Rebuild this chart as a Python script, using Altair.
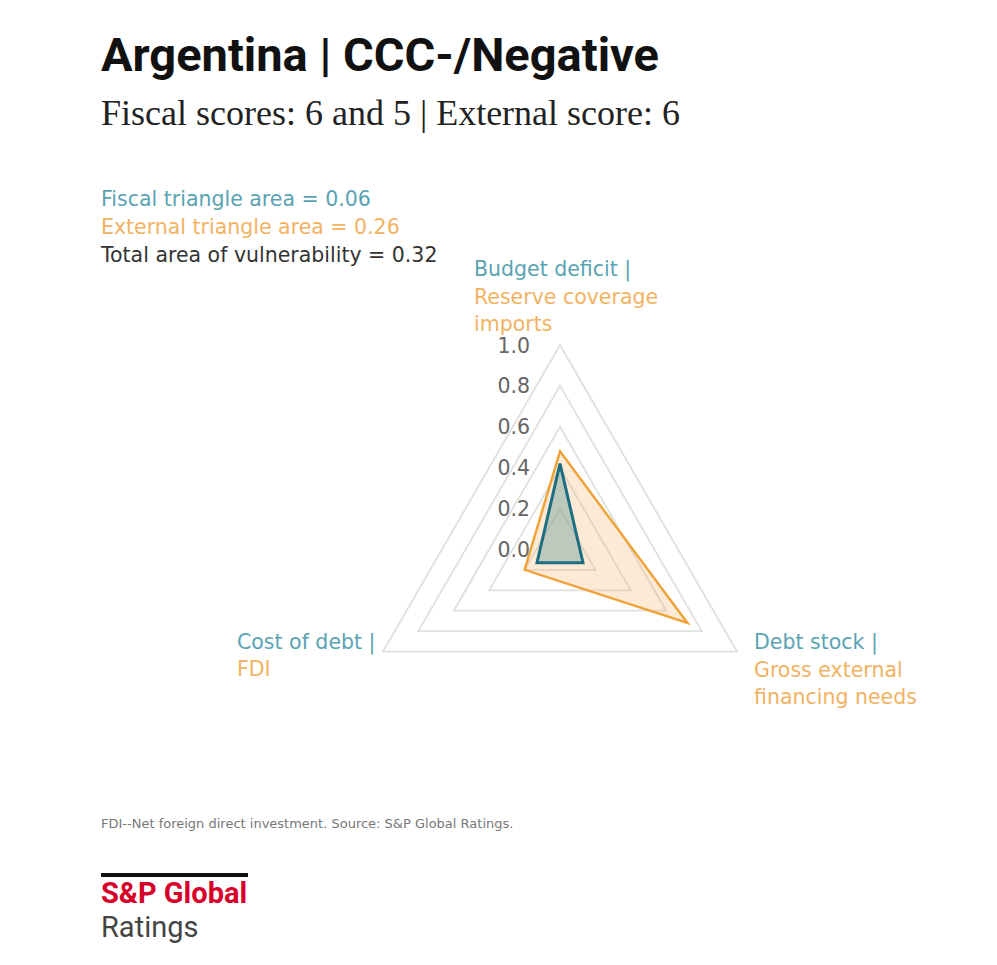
import altair as alt
import pandas as pd

# ---- data ----
axis_names = ["Budget deficit | Reserve coverage imports",
              "Debt stock | Gross external financing needs",
              "Cost of debt | FDI"]
fiscal_values = [0.42, 0.13, 0.13]
external_values = [0.48, 0.72, 0.20]
grid_levels = [0.2, 0.4, 0.6, 0.8, 1.0]
tick_values = [0.0, 0.2, 0.4, 0.6, 0.8, 1.0]
tick_labels = ["0.0", "0.2", "0.4", "0.6", "0.8", "1.0"]

TEAL_TXT = "#5aa3b3"
ORANGE_TXT = "#f2b263"
SANS = "DejaVu Sans"
FS = 20.5

# ---- tables ----
grid_df = pd.DataFrame([{"level": lv, "idx": i} for lv in grid_levels for i in range(len(axis_names))])
series_df = pd.DataFrame(
    [{"series": "External", "idx": i, "r": v} for i, v in enumerate(external_values)]
    + [{"series": "Fiscal", "idx": i, "r": v} for i, v in enumerate(fiscal_values)]
)
tick_df = pd.DataFrame({"v": tick_values, "label": tick_labels})

W, H = 981, 940
cx, cy, R = 552.0, 541.4, 204.4
xs = alt.Scale(domain=[-cx / R, (W - cx) / R], nice=False, zero=False)
ys = alt.Scale(domain=[-(H - cy) / R, cy / R], nice=False, zero=False)

angle = "PI/2 - datum.idx*2*PI/3"

grid = alt.Chart(grid_df).transform_calculate(
    x=f"datum.level*cos({angle})", y=f"datum.level*sin({angle})"
).mark_line(interpolate="linear-closed", color="#e0e0e0", strokeWidth=1.8).encode(
    x=alt.X("x:Q", scale=xs, axis=None),
    y=alt.Y("y:Q", scale=ys, axis=None),
    detail="level:N",
    order="idx:Q",
)

def poly(name, fill, fill_op, stroke, sw):
    return alt.Chart(series_df).transform_filter(
        alt.datum.series == name
    ).transform_calculate(
        x=f"datum.r*cos({angle})", y=f"datum.r*sin({angle})"
    ).mark_line(
        interpolate="linear-closed", fill=fill, fillOpacity=fill_op,
        stroke=stroke, strokeWidth=sw, strokeJoin="miter"
    ).encode(
        x=alt.X("x:Q", scale=xs, axis=None),
        y=alt.Y("y:Q", scale=ys, axis=None),
        order="idx:Q",
    )

ext = poly("External", "#f3b46a", 0.28, "#efa236", 2.4)
fis = poly("Fiscal", "#6a9a9a", 0.42, "#1d6e80", 3)

ticks = alt.Chart(tick_df).transform_calculate(x="0").mark_text(
    align="right", baseline="middle", dx=-30, dy=1.5, fontSize=FS, color="#666666", font=SANS
).encode(
    x=alt.X("x:Q", scale=xs, axis=None),
    y=alt.Y("v:Q", scale=ys, axis=None),
    text="label:N",
)

def label(txt, x, y, size=FS, color="#333333", font=SANS, weight="normal"):
    return alt.Chart(pd.DataFrame({"t": [txt]})).mark_text(
        align="left", baseline="middle", fontSize=size, color=color, font=font, fontWeight=weight
    ).encode(x=alt.value(x), y=alt.value(y), text="t:N")

texts = [
    label("Argentina | CCC-/Negative", 93, 49, 47, "#111111", "Roboto", "bold"),
    label("Fiscal scores: 6 and 5 | External score: 6", 93, 106, 36, "#222222", "Liberation Serif"),
    label("Fiscal triangle area = 0.06", 93, 191.5, FS, TEAL_TXT),
    label("External triangle area = 0.26", 93, 219.5, FS, ORANGE_TXT),
    label("Total area of vulnerability = 0.32", 93, 247.5, FS, "#333333"),
    label("Budget deficit |", 466, 261.5, FS, TEAL_TXT),
    label("Reserve coverage", 466, 289.5, FS, ORANGE_TXT),
    label("imports", 466, 316.5, FS, ORANGE_TXT),
    label("Cost of debt |", 229, 634.5, FS, TEAL_TXT),
    label("FDI", 229, 661.5, FS, ORANGE_TXT),
    label("Debt stock |", 746, 634.5, FS, TEAL_TXT),
    label("Gross external", 746, 662.5, FS, ORANGE_TXT),
    label("financing needs", 746, 689.5, FS, ORANGE_TXT),
    label("FDI--Net foreign direct investment. Source: S&P Global Ratings.", 93, 816, 13, "#777777"),
    label("S&P Global", 93, 886, 29, "#d6002a", "Roboto", "bold"),
    label("Ratings", 93, 920, 29, "#444444", "Roboto"),
]

logo_rule = alt.Chart(pd.DataFrame({"a": [0]})).mark_rule(color="#111111", strokeWidth=4).encode(
    x=alt.value(93), x2=alt.value(240), y=alt.value(867)
)

chart = alt.layer(grid, ext, fis, ticks, logo_rule, *texts).properties(
    width=W, height=H, autosize=alt.AutoSizeParams(type="none"), padding=0
).configure_view(stroke=None)

chart.save("out.html", embed_options={"renderer": "svg", "actions": False})
